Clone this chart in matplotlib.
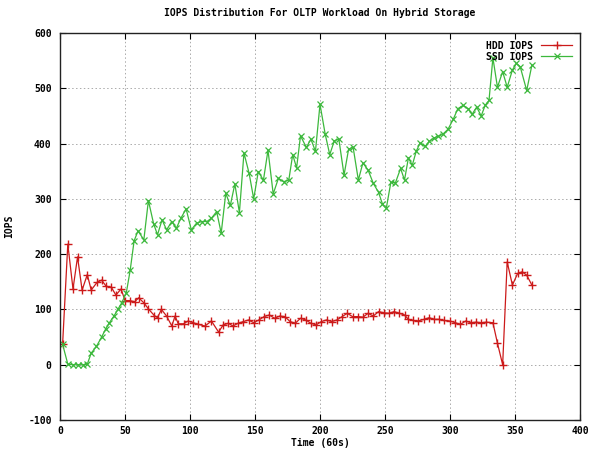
import matplotlib
matplotlib.use("Agg")
import matplotlib.pyplot as plt

title = "IOPS Distribution For OLTP Workload On Hybrid Storage"
xlabel = "Time (60s)"
ylabel = "IOPS"

hdd_x = [2, 6, 10, 13.5, 17, 21, 24, 28.5, 32, 35.5,
         39.5, 43, 47, 50, 53.5, 57.5, 60.5, 64.5, 68, 72.5,
         75, 78, 82, 86, 88.5, 91, 95, 98.5, 102.5, 106.5,
         111.5, 116.5, 122, 125.5, 129.5, 133, 137, 141, 145, 149,
         153, 157, 161, 165, 169, 173, 177, 181, 185, 189,
         193, 197, 201, 205, 209, 213, 217, 221, 225, 229,
         233, 237, 241, 245, 249, 253, 257, 261, 265, 268,
         271.5, 275, 280, 284, 288, 291.5, 295, 300, 304, 308,
         312, 316, 320, 324, 328, 333, 336.5, 340.5, 344, 348,
         352, 355.5, 359, 363]
hdd_y = [37, 218, 137, 195, 135, 163, 135, 149, 153, 142,
         140, 126, 137, 116, 116, 114, 121, 112, 101, 89,
         85, 100, 88, 70, 88, 74, 74, 79, 76, 73,
         70, 79, 59, 72, 75, 70, 75, 78, 81, 76,
         81, 87, 90, 84, 88, 87, 78, 75, 84, 81,
         75, 72, 78, 81, 78, 81, 87, 93, 87, 87,
         86, 93, 88, 96, 94, 93, 96, 93, 90, 82,
         80, 79, 82, 85, 82, 82, 80, 79, 76, 73,
         79, 76, 77, 76, 77, 76, 39, 0, 186, 144,
         165, 168, 162, 144]

ssd_x = [2, 6, 10, 14, 18, 21, 24, 28, 32, 35,
         38, 41.5, 44.5, 47.5, 51, 54, 57, 60, 64.5, 68,
         72, 75, 78.5, 82, 86, 89.5, 93, 97, 101, 105,
         109, 113, 116.5, 120.5, 124, 127.5, 131, 134.5, 138, 141.5,
         145.5, 149, 152.5, 156.5, 160, 164, 168, 172, 176, 179,
         182, 185, 189.5, 193, 196.5, 200, 204, 207.5, 211, 214.5,
         218.5, 222, 225.5, 229.5, 233, 237, 241, 245, 248, 251,
         254.5, 258, 262, 265, 268, 271, 274, 277, 281, 284,
         287.5, 291, 294.5, 298.5, 302.5, 306, 310, 314, 317, 320.5,
         324, 327, 330, 333, 336.5, 340.5, 344, 348, 351, 354,
         359, 363]
ssd_y = [37, 1, 0, 0, 0, 1, 21, 33, 50, 64,
         76, 88, 100, 112, 130, 171, 224, 242, 226, 297,
         255, 235, 262, 244, 259, 247, 265, 282, 244, 256,
         259, 259, 265, 277, 238, 310, 288, 327, 275, 383,
         346, 300, 349, 334, 388, 309, 337, 331, 334, 380,
         356, 414, 393, 408, 386, 471, 417, 380, 405, 408,
         343, 390, 393, 334, 365, 352, 328, 312, 291, 283,
         330, 329, 355, 334, 374, 361, 386, 401, 395, 404,
         410, 413, 417, 426, 444, 463, 469, 463, 453, 466,
         450, 469, 478, 555, 502, 530, 502, 533, 545, 539,
         496, 542]

xticks = [0, 50, 100, 150, 200, 250, 300, 350, 400]
yticks = [-100, 0, 100, 200, 300, 400, 500, 600]

font = {"family": "DejaVu Sans Mono", "weight": "bold", "size": 7}

fig = plt.figure(figsize=(5.95, 4.53), dpi=100)
ax = fig.add_axes([60/595, 1 - 420/453, 520/595, 387/453])

ax.plot(hdd_x, hdd_y, color="#cc1a1a", marker="+", markersize=6, linewidth=0.9,
        markeredgewidth=1.0, label="HDD IOPS")
ax.plot(ssd_x, ssd_y, color="#3cb83c", marker="x", markersize=5, linewidth=0.9,
        markeredgewidth=0.9, label="SSD IOPS")

ax.set_xlim(0, 400)
ax.set_ylim(-100, 600)
ax.set_xticks(xticks)
ax.set_yticks(yticks)
ax.set_xticklabels([str(t) for t in xticks], fontdict=font)
ax.set_yticklabels([str(t) for t in yticks], fontdict=font)
ax.tick_params(axis="y", direction="in", left=True, right=True, length=4, width=0.8, pad=6)
ax.tick_params(axis="x", direction="in", top=True, bottom=True, length=4, width=0.8, pad=4)
ax.grid(True, color="#aaaaaa", linestyle=(0, (1.5, 2.5)), linewidth=0.7)
for s in ax.spines.values():
    s.set_linewidth(1.0)
    s.set_color("#222222")

ax.set_title(title, fontdict=font, pad=12)
ax.set_xlabel(xlabel, fontdict=font, labelpad=2)
ax.set_ylabel(ylabel, fontdict=font, labelpad=10)

leg = ax.legend(loc="upper right", frameon=False, markerfirst=False,
                prop={"family": "DejaVu Sans Mono", "weight": "bold", "size": 7},
                handlelength=3.2, borderaxespad=0.4, labelspacing=0.1, handletextpad=0.8)

fig.savefig("out.png", dpi=100)
